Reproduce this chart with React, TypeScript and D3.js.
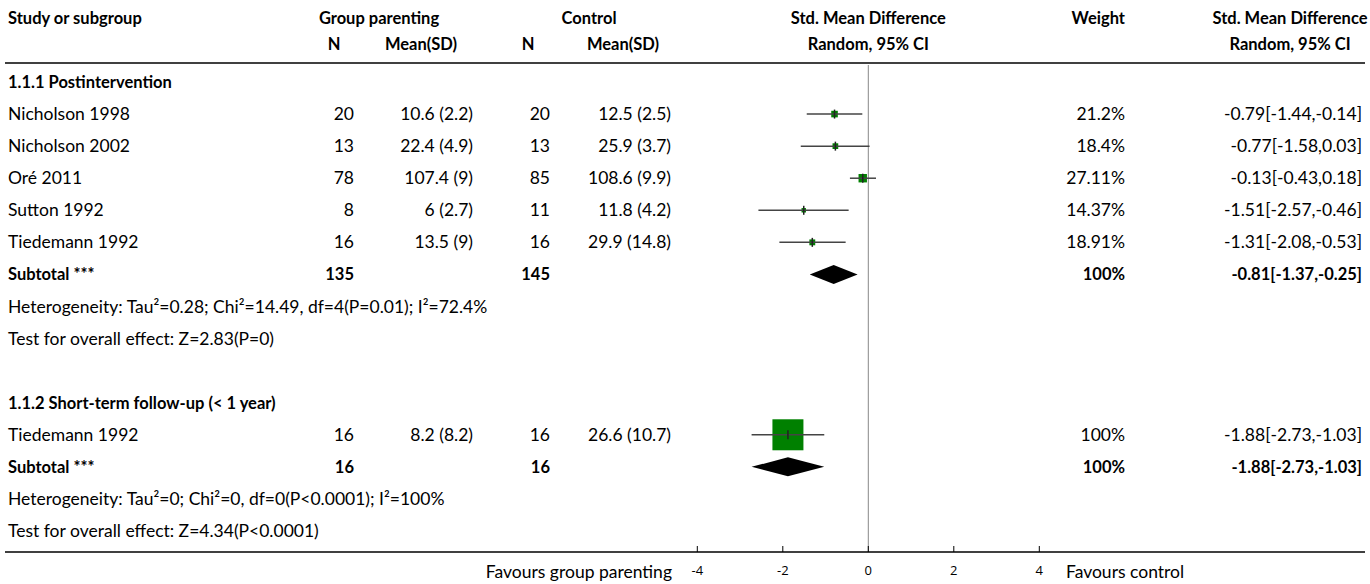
import React from "react";
import * as d3 from "d3";

const studies1 = ["Nicholson 1998", "Nicholson 2002", "Oré 2011", "Sutton 1992", "Tiedemann 1992"];
const expN1 = [20, 13, 78, 8, 16];
const expMean1 = ["10.6 (2.2)", "22.4 (4.9)", "107.4 (9)", "6 (2.7)", "13.5 (9)"];
const ctlN1 = [20, 13, 85, 11, 16];
const ctlMean1 = ["12.5 (2.5)", "25.9 (3.7)", "108.6 (9.9)", "11.8 (4.2)", "29.9 (14.8)"];
const smd1 = [-0.79, -0.77, -0.13, -1.51, -1.31];
const lo1 = [-1.44, -1.58, -0.43, -2.57, -2.08];
const hi1 = [-0.14, 0.03, 0.18, -0.46, -0.53];
const weight1 = [21.2, 18.4, 27.11, 14.37, 18.91];
const weightLabel1 = ["21.2%", "18.4%", "27.11%", "14.37%", "18.91%"];
const ciLabel1 = ["-0.79[-1.44,-0.14]", "-0.77[-1.58,0.03]", "-0.13[-0.43,0.18]", "-1.51[-2.57,-0.46]", "-1.31[-2.08,-0.53]"];

const studies2 = ["Tiedemann 1992"];
const expN2 = [16];
const expMean2 = ["8.2 (8.2)"];
const ctlN2 = [16];
const ctlMean2 = ["26.6 (10.7)"];
const smd2 = [-1.88];
const lo2 = [-2.73];
const hi2 = [-1.03];
const weight2 = [100];
const weightLabel2 = ["100%"];
const ciLabel2 = ["-1.88[-2.73,-1.03]"];

const subgroupTitles = ["1.1.1 Postintervention", "1.1.2 Short-term follow-up (< 1 year)"];
const subtotalExpN = [135, 16];
const subtotalCtlN = [145, 16];
const subtotalSmd = [-0.81, -1.88];
const subtotalLo = [-1.37, -2.73];
const subtotalHi = [-0.25, -1.03];
const subtotalCiLabel = ["-0.81[-1.37,-0.25]", "-1.88[-2.73,-1.03]"];
const heterogeneity = [
  "Heterogeneity: Tau²=0.28; Chi²=14.49, df=4(P=0.01); I²=72.4%",
  "Heterogeneity: Tau²=0; Chi²=0, df=0(P<0.0001); I²=100%",
];
const overallTest = ["Test for overall effect: Z=2.83(P=0)", "Test for overall effect: Z=4.34(P<0.0001)"];

const axisTicks = [-4, -2, 0, 2, 4];
const favoursLeft = "Favours group parenting";
const favoursRight = "Favours control";

const FONT = "Lato, 'Source Sans Pro', sans-serif";
const FS = 17.5;
const FSB = 16.5;

export default function App() {
  const W = 1370, H = 584;
  const x = d3.scaleLinear().domain([-4, 4]).range([697.3, 1039.3]);
  const y = d3.scaleLinear().domain([0, 14]).range([82, 531]);
  const side = d3.scaleLinear().domain([0, 100]).range([0, 31]);

  const groups = [
    { studies: studies1, eN: expN1, eM: expMean1, cN: ctlN1, cM: ctlMean1, smd: smd1, lo: lo1, hi: hi1, w: weight1, wl: weightLabel1, cl: ciLabel1 },
    { studies: studies2, eN: expN2, eM: expMean2, cN: ctlN2, cM: ctlMean2, smd: smd2, lo: lo2, hi: hi2, w: weight2, wl: weightLabel2, cl: ciLabel2 },
  ];

  const colStudy = 8, colEN = 354, colEM = 473, colCN = 550, colCM = 671, colW = 1125, colCI = 1362;
  const zeroX = x(0);

  const rows: React.ReactNode[] = [];
  let r = 0;
  groups.forEach((g, gi) => {
    const ty = (ri: number) => y(ri) + 6;
    rows.push(
      <text key={`t${gi}`} x={colStudy} y={ty(r)} fontWeight="bold" fontSize={FSB}>{subgroupTitles[gi]}</text>
    );
    r++;
    g.studies.forEach((s, i) => {
      const cy = y(r);
      const sz = side(g.w[i]);
      rows.push(
        <g key={`s${gi}-${i}`}>
          <text x={colStudy} y={ty(r)}>{s}</text>
          <text x={colEN} y={ty(r)} textAnchor="end">{g.eN[i]}</text>
          <text x={colEM} y={ty(r)} textAnchor="end">{g.eM[i]}</text>
          <text x={colCN} y={ty(r)} textAnchor="end">{g.cN[i]}</text>
          <text x={colCM} y={ty(r)} textAnchor="end">{g.cM[i]}</text>
          <text x={colW} y={ty(r)} textAnchor="end">{g.wl[i]}</text>
          <text x={colCI} y={ty(r)} textAnchor="end">{g.cl[i]}</text>
          <rect x={x(g.smd[i]) - sz / 2} y={cy - sz / 2} width={sz} height={sz} fill="#008000" />
          <line x1={x(g.lo[i])} x2={x(g.hi[i])} y1={cy} y2={cy} stroke="#444" strokeWidth={1.5} />
          <line x1={x(g.smd[i])} x2={x(g.smd[i])} y1={cy - 4.5} y2={cy + 4.5} stroke="#222" strokeWidth={1.5} />
        </g>
      );
      r++;
    });
    const cy = y(r);
    const dPath = d3.line()([
      [x(subtotalLo[gi]), cy],
      [x(subtotalSmd[gi]), cy - 9.5],
      [x(subtotalHi[gi]), cy],
      [x(subtotalSmd[gi]), cy + 9.5],
    ]) + "Z";
    rows.push(
      <g key={`st${gi}`} fontWeight="bold" fontSize={FSB}>
        <text x={colStudy} y={ty(r)}>Subtotal ***</text>
        <text x={colEN} y={ty(r)} textAnchor="end">{subtotalExpN[gi]}</text>
        <text x={colCN} y={ty(r)} textAnchor="end">{subtotalCtlN[gi]}</text>
        <text x={colW} y={ty(r)} textAnchor="end">100%</text>
        <text x={colCI} y={ty(r)} textAnchor="end">{subtotalCiLabel[gi]}</text>
        <path d={dPath} fill="#000" />
      </g>
    );
    r++;
    rows.push(<text key={`h${gi}`} x={colStudy} y={ty(r)}>{heterogeneity[gi]}</text>);
    r++;
    rows.push(<text key={`o${gi}`} x={colStudy} y={ty(r)}>{overallTest[gi]}</text>);
    r++;
    r++;
  });

  return (
    <svg width={W} height={H} style={{ position: "absolute", left: 0, top: 0 }} fontFamily={FONT} fontSize={FS} fill="#000">
      <rect width={W} height={H} fill="#fff" />
      <g fontWeight="bold" fontSize={FSB}>
        <text x={colStudy} y={24}>Study or subgroup</text>
        <text x={379} y={24} textAnchor="middle">Group parenting</text>
        <text x={589} y={24} textAnchor="middle">Control</text>
        <text x={zeroX} y={24} textAnchor="middle">Std. Mean Difference</text>
        <text x={colW} y={24} textAnchor="end">Weight</text>
        <text x={1290} y={24} textAnchor="middle">Std. Mean Difference</text>
        <text x={334} y={50} textAnchor="middle">N</text>
        <text x={421} y={50} textAnchor="middle">Mean(SD)</text>
        <text x={528} y={50} textAnchor="middle">N</text>
        <text x={623} y={50} textAnchor="middle">Mean(SD)</text>
        <text x={zeroX} y={50} textAnchor="middle">Random, 95% CI</text>
        <text x={1290} y={50} textAnchor="middle">Random, 95% CI</text>
      </g>
      <line x1={5} x2={1365} y1={63} y2={63} stroke="#000" strokeWidth={1.5} />
      <line x1={zeroX} x2={zeroX} y1={65} y2={552} stroke="#888" strokeWidth={1} />
      {rows}
      <line x1={5} x2={1365} y1={552} y2={552} stroke="#000" strokeWidth={1.5} />
      {axisTicks.map((t) => (
        <g key={t}>
          <line x1={x(t)} x2={x(t)} y1={546} y2={552} stroke="#000" strokeWidth={1} />
          <text x={x(t)} y={575} textAnchor="middle" fontSize={13} fontFamily="'Open Sans', sans-serif">{t}</text>
        </g>
      ))}
      <text x={672} y={578} textAnchor="end">{favoursLeft}</text>
      <text x={1066} y={578}>{favoursRight}</text>
    </svg>
  );
}
